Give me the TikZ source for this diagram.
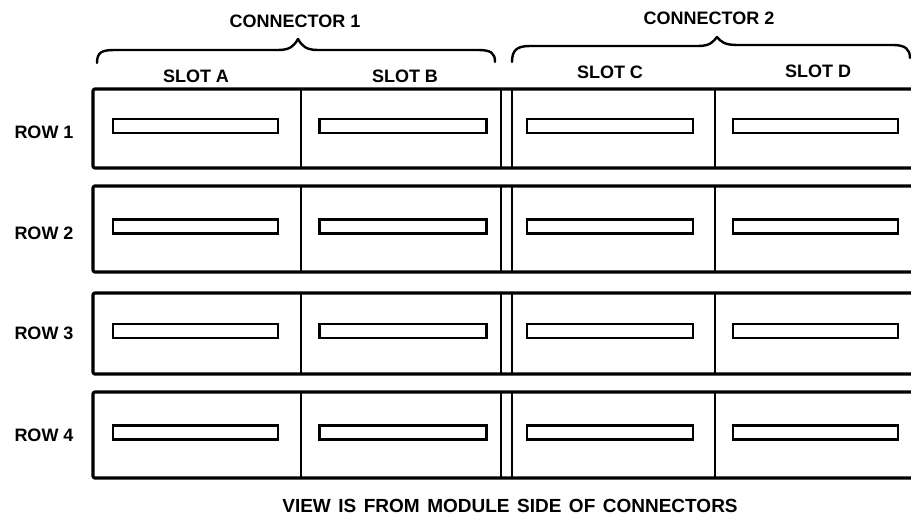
\documentclass[tikz,border=0pt]{standalone}
\usepackage{fontspec}
\setmainfont{Liberation Sans}
\newcommand{\wide}{\spaceskip=7.5pt\relax}
\begin{document}
\begin{tikzpicture}[x=1pt,y=-1pt,
  lbl/.style={font=\fontsize{18}{18}\selectfont\bfseries, inner sep=0pt},
  captext/.style={font=\fontsize{19}{19}\selectfont\bfseries, inner sep=0pt},
  slotbox/.style={draw, line width=2.4pt, minimum width=165pt, minimum height=14pt, inner sep=0pt},
  rowline/.style={line width=3.2pt, rounded corners=2pt, line join=round},
  divline/.style={line width=2pt},
  bracepath/.style={line width=2.4pt, line cap=round, line join=round}]
\useasboundingbox (0,0) rectangle (911,516);
\fill[white] (0,0) rectangle (911,516);

% connector labels and braces
\node[lbl] (con1) at (295,21) {CONNECTOR 1};
\node[lbl] (con2) at (709,18.5) {CONNECTOR 2};
\draw[bracepath] (97,63) .. controls (97,52) and (102,50) .. (115,50)
  -- (278,50) .. controls (290,50) and (294,46) .. (298,39)
  .. controls (302,46) and (306,50) .. (318,50)
  -- (478,50) .. controls (491,50) and (495,53) .. (495,62);
\draw[bracepath] (512,62) .. controls (512,50) and (517,46) .. (530,46)
  -- (698,46) .. controls (710,46) and (713,42) .. (717,37)
  .. controls (721,42) and (725,45) .. (737,45)
  -- (893,45) .. controls (905,45) and (910,49) .. (910,58);

% slot labels
\node[lbl] (slA) at (196,76) {SLOT A};
\node[lbl] (slB) at (405,76) {SLOT B};
\node[lbl] (slC) at (610,72) {SLOT C};
\node[lbl] (slD) at (818,71) {SLOT D};

% rows
\foreach \t/\b/\n/\ly in {89/168/1/132, 186/272/2/233, 293/374/3/333, 392/478/4/435}{
  \draw[rowline] (913,\t) -- (93,\t) -- (93,\b) -- (913,\b);
  \draw[divline] (301,\t) -- (301,\b);
  \draw[divline] (501,\t) -- (501,\b);
  \draw[divline] (512,\t) -- (512,\b);
  \draw[divline] (715,\t) -- (715,\b);
  \pgfmathsetmacro{\sy}{\t+0.47*(\b-\t)}
  \node[slotbox] (r\n a) at (195.5,\sy) {};
  \node[slotbox, minimum width=167pt] (r\n b) at (403,\sy) {};
  \node[slotbox, minimum width=166pt] (r\n c) at (610,\sy) {};
  \node[slotbox] (r\n d) at (815.5,\sy) {};
  \node[lbl] (row\n) at (44,\ly) {ROW \n};
}

% caption
\node[captext] (caption) at (510,506) {\wide VIEW IS FROM MODULE SIDE OF CONNECTORS};
\end{tikzpicture}
\end{document}
